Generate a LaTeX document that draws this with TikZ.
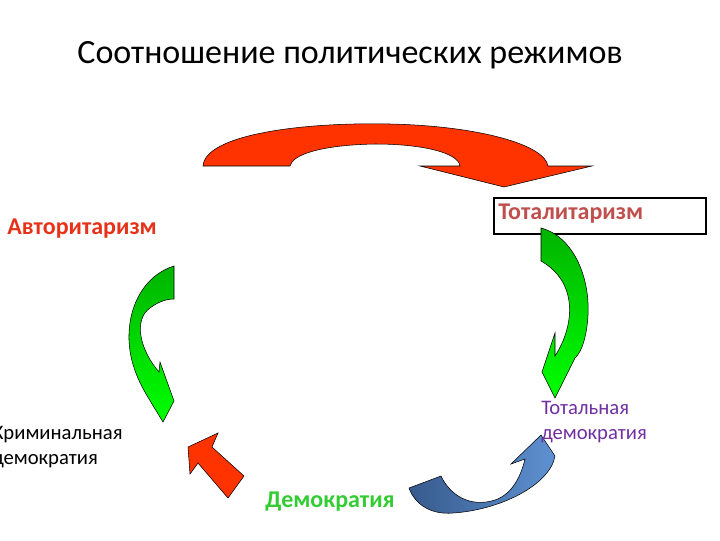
\documentclass[tikz,border=0pt]{standalone}
\usepackage{fontspec}
\setmainfont{Carlito}
\begin{document}
\begin{tikzpicture}[x=0.75pt,y=-0.75pt,
  lbl/.style={font=\fontsize{18}{21}\selectfont\bfseries, inner sep=0pt},
  sml/.style={font=\fontsize{15.5}{18.5}\selectfont, inner sep=0pt, align=left},
  shp/.style={draw=black, line width=0.4pt}]
\useasboundingbox (0,0) rectangle (720,540);
\node[font=\fontsize{25.5}{30}\selectfont, inner sep=0pt] (title) at (350,55) {Соотношение политических режимов};
% top red arrow
\path[shp, fill={rgb,255:red,255;green,51;blue,0}]
 (203,166) .. controls (205,135) and (300,122) .. (390,124)
 .. controls (480,126) and (545,145) .. (548,166)
 -- (592,166) -- (504,187) -- (420,166) -- (460,166)
 .. controls (458,152) and (420,144) .. (375,144)
 .. controls (320,145) and (292,155) .. (290,166) -- cycle;
% totalitarism box
\node[draw=black, line width=1pt, minimum width=212*0.75pt, minimum height=36*0.75pt, inner sep=0pt] (tbox) at (600,216) {};
\node[lbl, text={rgb,255:red,192;green,80;blue,77}, anchor=west] (tot) at (498,214) {Тоталитаризм};
\node[lbl, text={rgb,255:red,230;green,50;blue,25}, anchor=west] (avt) at (7,229) {Авторитаризм};
% left green arrow
\path[shp, top color={rgb,255:red,0;green,180;blue,0}, bottom color={rgb,255:red,0;green,255;blue,0}]
 (174,266) .. controls (145,275) and (128,305) .. (129,340)
 .. controls (130,370) and (145,392) .. (152,404)
 -- (163,422) -- (174,401) -- (160,362) -- (159,372)
 .. controls (140,350) and (133,320) .. (150,308)
 .. controls (158,302) and (166,299) .. (174,299) -- cycle;
% right green arrow
\path[shp, top color={rgb,255:red,0;green,180;blue,0}, bottom color={rgb,255:red,0;green,255;blue,0}]
 (541,228) .. controls (572,236) and (590,275) .. (588,315)
 .. controls (587,335) and (582,352) .. (575,358)
 -- (555,398) -- (542,372) -- (555,333) -- (555,356)
 .. controls (575,325) and (578,282) .. (541,261) -- cycle;
% blue arrow
\path[shp, left color={rgb,255:red,55;green,90;blue,140}, right color={rgb,255:red,95;green,145;blue,210}]
 (409,488) .. controls (415,505) and (432,515) .. (453,513)
 .. controls (500,510) and (550,485) .. (555,456)
 -- (541,435) -- (511,464) -- (525,459)
 .. controls (520,480) and (510,495) .. (495,500)
 .. controls (470,508) and (450,495) .. (441,476) -- cycle;
% small red arrow
\path[shp, fill={rgb,255:red,255;green,51;blue,0}]
 (188,447) -- (218,433) -- (212,447) -- (244,476) -- (228,498) -- (198,463) -- (190,474) -- cycle;
\node[sml, text=black, anchor=west] (krim) at (-8,447) {Криминальная\\демократия};
\node[sml, text={rgb,255:red,112;green,48;blue,160}, anchor=west] (totd) at (541,422) {Тотальная\\демократия};
\node[lbl, text={rgb,255:red,51;green,204;blue,51}] (dem) at (330,502) {Демократия};
\end{tikzpicture}
\end{document}
